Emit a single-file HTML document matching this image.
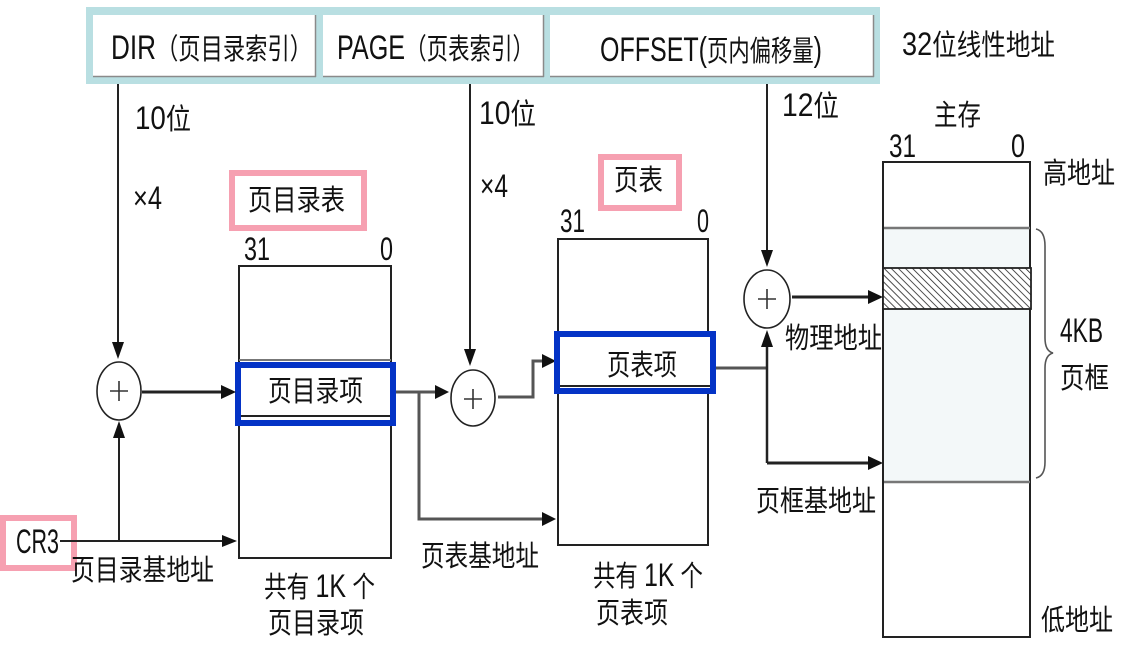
<!DOCTYPE html>
<html><head><meta charset="utf-8"><style>
html,body{margin:0;padding:0;background:#fff;}
svg{display:block;}
text{font-family:"Liberation Sans","Noto Sans CJK SC",sans-serif;font-size:29px;fill:#111;}
.L{font-size:34px;}
.N{font-size:32px;}
</style></head><body>
<svg width="1129" height="647" viewBox="0 0 1129 647" xmlns="http://www.w3.org/2000/svg">
<defs>
<pattern id="hatch" patternUnits="userSpaceOnUse" width="5" height="5" patternTransform="rotate(-45)">
<rect width="5" height="5" fill="#fff"/>
<line x1="0" y1="0" x2="0" y2="5" stroke="#222" stroke-width="1.6"/>
</pattern>
</defs>

<!-- top linear address box -->
<rect x="86" y="7" width="794" height="77" fill="#b9dfe2"/>
<rect x="93" y="15" width="223" height="62" fill="#fff"/>
<rect x="323" y="15" width="221" height="62" fill="#fff"/>
<rect x="550" y="15" width="324" height="62" fill="#fff"/>
<g stroke="#8a8a8a" stroke-width="1.5">
<line x1="93" y1="76.5" x2="316" y2="76.5"/><line x1="315.5" y1="15" x2="315.5" y2="77"/>
<line x1="323" y1="76.5" x2="544" y2="76.5"/><line x1="543.5" y1="15" x2="543.5" y2="77"/>
<line x1="550" y1="76.5" x2="874" y2="76.5"/><line x1="873.5" y1="15" x2="873.5" y2="77"/>
</g>
<text x="111" y="59" textLength="201" lengthAdjust="spacingAndGlyphs"><tspan class="L">DIR</tspan>（页目录索引）</text>
<text x="337" y="59" textLength="197" lengthAdjust="spacingAndGlyphs"><tspan class="L">PAGE</tspan>（页表索引）</text>
<text x="600" y="61" textLength="222" lengthAdjust="spacingAndGlyphs"><tspan class="L">OFFSET(</tspan>页内偏移量<tspan class="L">)</tspan></text>
<text x="902" y="55" textLength="153" lengthAdjust="spacingAndGlyphs"><tspan class="N">32</tspan>位线性地址</text>

<!-- vertical lines from address fields -->
<g stroke="#222" stroke-width="2" fill="none">
<line x1="118" y1="84" x2="118" y2="345"/>
<line x1="470" y1="84" x2="470" y2="352"/>
<line x1="767" y1="84" x2="767" y2="252"/>
</g>
<g fill="#111">
<polygon points="118,359 112,342 124,342"/>
<polygon points="470,366 464,349 476,349"/>
<polygon points="767,267 761,250 773,250"/>
</g>
<text x="135" y="129" textLength="56" lengthAdjust="spacingAndGlyphs"><tspan class="N">10</tspan>位</text>
<text x="479" y="124" textLength="57" lengthAdjust="spacingAndGlyphs"><tspan class="N">10</tspan>位</text>
<text x="782" y="116" textLength="57" lengthAdjust="spacingAndGlyphs"><tspan class="N">12</tspan>位</text>
<text x="133" y="209" textLength="29" lengthAdjust="spacingAndGlyphs" class="N">×4</text>
<text x="480" y="197" textLength="28" lengthAdjust="spacingAndGlyphs" class="N">×4</text>

<!-- page directory -->
<rect x="232" y="173" width="132" height="55" fill="none" stroke="#f6a0b1" stroke-width="6"/>
<text x="248" y="210" textLength="97" lengthAdjust="spacingAndGlyphs">页目录表</text>
<text x="244" y="260" textLength="26" lengthAdjust="spacingAndGlyphs" class="N">31</text>
<text x="380" y="260" textLength="13" lengthAdjust="spacingAndGlyphs" class="N">0</text>
<rect x="239" y="266" width="152" height="292" fill="#fff" stroke="#222" stroke-width="2"/>
<line x1="239" y1="360" x2="391" y2="360" stroke="#777" stroke-width="2"/>
<rect x="238" y="365" width="155" height="58" fill="#fff" stroke="#0433c6" stroke-width="6"/>
<line x1="241" y1="416" x2="390" y2="416" stroke="#222" stroke-width="2"/>
<text x="268" y="401" textLength="95" lengthAdjust="spacingAndGlyphs">页目录项</text>
<text x="264" y="597" textLength="111" lengthAdjust="spacingAndGlyphs">共有 <tspan class="N">1K</tspan> 个</text>
<text x="268" y="633" textLength="96" lengthAdjust="spacingAndGlyphs">页目录项</text>

<!-- adder 1 -->
<ellipse cx="119" cy="391" rx="22" ry="29" fill="#fff" stroke="#222" stroke-width="1.6"/>
<g stroke="#333" stroke-width="1.6"><line x1="110" y1="391" x2="128" y2="391"/><line x1="119" y1="381" x2="119" y2="401"/></g>
<line x1="142" y1="392" x2="222" y2="392" stroke="#222" stroke-width="3"/>
<polygon points="236,392 221,385 221,399" fill="#111"/>

<!-- CR3 -->
<rect x="3" y="518" width="71" height="50" fill="#fff" stroke="#f6a0b1" stroke-width="6"/>
<text x="16" y="553" textLength="43" lengthAdjust="spacingAndGlyphs" class="L">CR3</text>
<line x1="60" y1="541" x2="224" y2="541" stroke="#222" stroke-width="2"/>
<polygon points="237,541 222,535 222,547" fill="#111"/>
<line x1="119" y1="541" x2="119" y2="436" stroke="#222" stroke-width="2"/>
<polygon points="119,421 113,438 125,438" fill="#111"/>
<text x="71" y="580" textLength="143" lengthAdjust="spacingAndGlyphs">页目录基地址</text>

<!-- dir entry outputs -->
<g stroke="#555" stroke-width="3" fill="none">
<line x1="396" y1="392" x2="436" y2="392"/>
<polyline points="419,392 419,519 543,519"/>
</g>
<polygon points="449,392 435,385 435,399" fill="#111"/>
<polygon points="556,519 542,512 542,526" fill="#111"/>
<text x="421" y="566" textLength="118" lengthAdjust="spacingAndGlyphs">页表基地址</text>

<!-- adder 2 -->
<ellipse cx="473" cy="398" rx="22" ry="28" fill="#fff" stroke="#222" stroke-width="1.6"/>
<g stroke="#333" stroke-width="1.6"><line x1="464" y1="399" x2="482" y2="399"/><line x1="473" y1="389" x2="473" y2="409"/></g>
<polyline points="498,397 533,397 533,361 543,361" fill="none" stroke="#555" stroke-width="3"/>
<polygon points="556,361 542,354 542,368" fill="#111"/>

<!-- page table -->
<rect x="601" y="157" width="78" height="51" fill="#fff" stroke="#f6a0b1" stroke-width="6"/>
<text x="614" y="190" textLength="49" lengthAdjust="spacingAndGlyphs">页表</text>
<text x="560" y="232" textLength="25" lengthAdjust="spacingAndGlyphs" class="N">31</text>
<text x="697" y="232" textLength="12" lengthAdjust="spacingAndGlyphs" class="N">0</text>
<rect x="558" y="239" width="150" height="306" fill="#fff" stroke="#222" stroke-width="2"/>
<rect x="557" y="334" width="156" height="57" fill="#fff" stroke="#0433c6" stroke-width="6"/>
<line x1="560" y1="386" x2="710" y2="386" stroke="#222" stroke-width="2"/>
<text x="607" y="375" textLength="70" lengthAdjust="spacingAndGlyphs">页表项</text>
<text x="593" y="586" textLength="110" lengthAdjust="spacingAndGlyphs">共有 <tspan class="N">1K</tspan> 个</text>
<text x="596" y="623" textLength="72" lengthAdjust="spacingAndGlyphs">页表项</text>

<!-- page entry output -->
<line x1="716" y1="368" x2="767" y2="368" stroke="#555" stroke-width="3"/>
<line x1="767" y1="463" x2="767" y2="346" stroke="#222" stroke-width="2.5"/>
<polygon points="767,330 761,347 773,347" fill="#111"/>
<line x1="767" y1="463" x2="869" y2="463" stroke="#222" stroke-width="3"/>
<polygon points="883,463 868,456 868,470" fill="#111"/>
<text x="756" y="511" textLength="120" lengthAdjust="spacingAndGlyphs">页框基地址</text>

<!-- adder 3 -->
<ellipse cx="767" cy="299" rx="23" ry="29" fill="#fff" stroke="#222" stroke-width="1.6"/>
<g stroke="#333" stroke-width="1.6"><line x1="758" y1="299" x2="776" y2="299"/><line x1="767" y1="289" x2="767" y2="309"/></g>
<line x1="792" y1="297" x2="869" y2="297" stroke="#222" stroke-width="3"/>
<polygon points="883,297 868,290 868,304" fill="#111"/>
<text x="785" y="348" textLength="97" lengthAdjust="spacingAndGlyphs">物理地址</text>

<!-- main memory -->
<text x="934" y="125" textLength="47" lengthAdjust="spacingAndGlyphs">主存</text>
<text x="889" y="157" textLength="27" lengthAdjust="spacingAndGlyphs" class="N">31</text>
<text x="1011" y="157" textLength="14" lengthAdjust="spacingAndGlyphs" class="N">0</text>
<text x="1043" y="183" textLength="72" lengthAdjust="spacingAndGlyphs">高地址</text>
<rect x="883" y="162" width="147" height="475" fill="#fff" stroke="#222" stroke-width="2"/>
<rect x="884" y="228" width="145" height="254" fill="#f3f8f9"/>
<line x1="884" y1="228" x2="1030" y2="228" stroke="#777" stroke-width="2.5"/>
<line x1="884" y1="482" x2="1030" y2="482" stroke="#777" stroke-width="2.5"/>
<rect x="883" y="268" width="148" height="41" fill="url(#hatch)" stroke="#222" stroke-width="1.8"/>
<path d="M1036,229 Q1045,231 1045,246 L1045,338 Q1045,351 1053,353 Q1045,355 1045,368 L1045,462 Q1045,476 1036,478" fill="none" stroke="#555" stroke-width="1.6"/>
<text x="1060" y="342" textLength="43" lengthAdjust="spacingAndGlyphs" class="L">4KB</text>
<text x="1060" y="388" textLength="49" lengthAdjust="spacingAndGlyphs">页框</text>
<text x="1041" y="630" textLength="72" lengthAdjust="spacingAndGlyphs">低地址</text>
</svg>
</body></html>
